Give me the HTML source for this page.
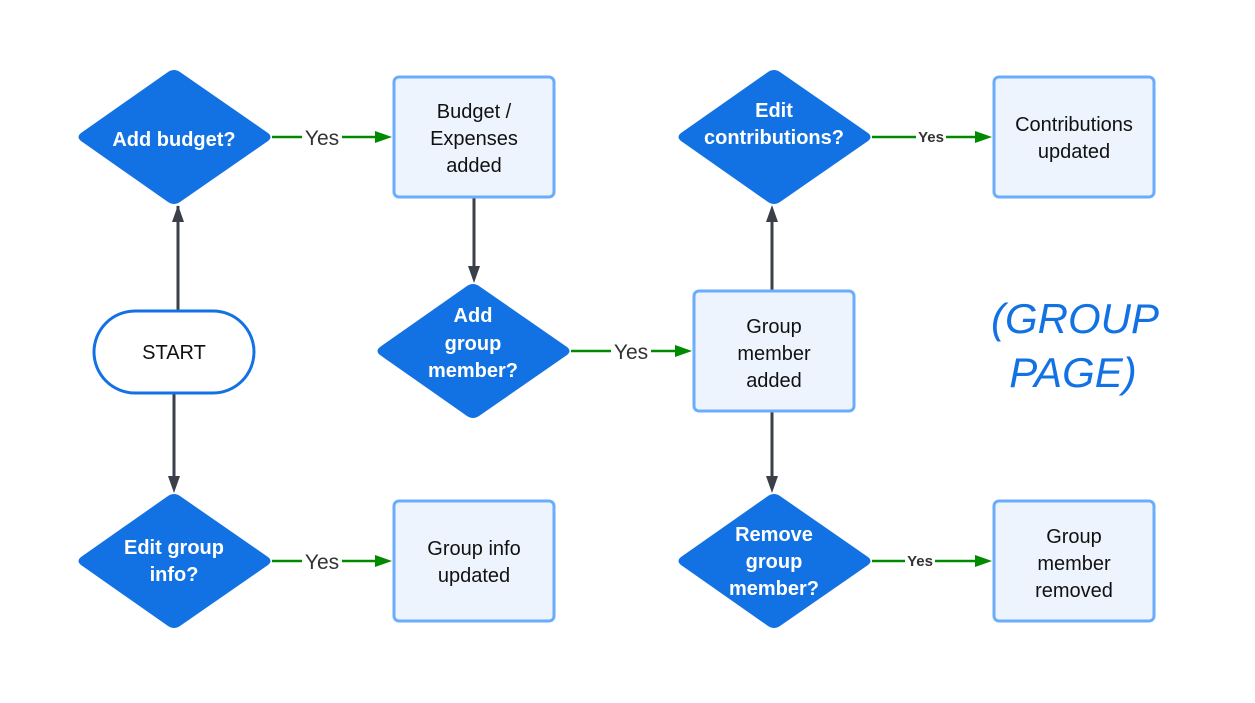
<!DOCTYPE html>
<html><head><meta charset="utf-8"><style>
html,body{margin:0;padding:0;background:#fff;}
svg{display:block;font-family:"Liberation Sans",sans-serif;}
</style></head><body>
<svg width="1255" height="703" viewBox="0 0 1255 703">
<g stroke="#3a3f4a" stroke-width="3" fill="none">
<line x1="178" y1="310" x2="178" y2="206"/><path d="M172,222 L178,205 L184,222Z" fill="#3a3f4a" stroke="none"/>
<line x1="174" y1="393" x2="174" y2="478"/><path d="M168,476 L174,493 L180,476Z" fill="#3a3f4a" stroke="none"/>
<line x1="474" y1="197" x2="474" y2="268"/><path d="M468,266 L474,283 L480,266Z" fill="#3a3f4a" stroke="none"/>
<line x1="772" y1="290" x2="772" y2="220"/><path d="M766,222 L772,205 L778,222Z" fill="#3a3f4a" stroke="none"/>
<line x1="772" y1="411" x2="772" y2="478"/><path d="M766,476 L772,493 L778,476Z" fill="#3a3f4a" stroke="none"/>
</g>
<g stroke="#008a00" stroke-width="2.5">
<line x1="272" y1="137" x2="378" y2="137"/><line x1="571" y1="351" x2="678" y2="351"/><line x1="272" y1="561" x2="378" y2="561"/>
<line x1="872" y1="137" x2="978" y2="137"/><line x1="872" y1="561" x2="978" y2="561"/>
</g>
<g fill="#008a00">
<path d="M375,131 L392,137 L375,143Z"/><path d="M675,345 L692,351 L675,357Z"/><path d="M375,555 L392,561 L375,567Z"/>
<path d="M975,131 L992,137 L975,143Z"/><path d="M975,555 L992,561 L975,567Z"/>
</g>
<g font-size="21" fill="#333" text-anchor="middle">
<rect x="302" y="124" width="40" height="26" fill="#fff"/><text x="322" y="145">Yes</text>
<rect x="611" y="338" width="40" height="26" fill="#fff"/><text x="631" y="359">Yes</text>
<rect x="302" y="548" width="40" height="26" fill="#fff"/><text x="322" y="569">Yes</text>
</g>
<g font-size="15" font-weight="bold" fill="#333" text-anchor="middle">
<rect x="916" y="128" width="30" height="18" fill="#fff"/><text x="931" y="142">Yes</text>
<rect x="905" y="552" width="30" height="18" fill="#fff"/><text x="920" y="566">Yes</text>
</g>
<g fill="#1272e3">
<path d="M168,72 Q174,68 180,72 L268,133 Q273,137 268,141 L180,202 Q174,206 168,202 L81,141 Q76,137 81,133Z"/>
<path d="M168,496 Q174,492 180,496 L268,557 Q273,561 268,565 L180,626 Q174,630 168,626 L81,565 Q76,561 81,557Z"/>
<path d="M467,286 Q473,282 479,286 L567,347 Q572,351 567,355 L479,416 Q473,420 467,416 L380,355 Q375,351 380,347Z"/>
<path d="M768,72 Q774,68 780,72 L868,133 Q873,137 868,141 L780,202 Q774,206 768,202 L681,141 Q676,137 681,133Z"/>
<path d="M768,496 Q774,492 780,496 L868,557 Q873,561 868,565 L780,626 Q774,630 768,626 L681,565 Q676,561 681,557Z"/>
</g>
<g font-size="20" font-weight="bold" fill="#fff" text-anchor="middle">
<text x="174" y="146">Add budget?</text>
<text x="174" y="554">Edit group</text><text x="174" y="581">info?</text>
<text x="473" y="322">Add</text><text x="473" y="350">group</text><text x="473" y="377">member?</text>
<text x="774" y="117">Edit</text><text x="774" y="144">contributions?</text>
<text x="774" y="541">Remove</text><text x="774" y="568">group</text><text x="774" y="595">member?</text>
</g>
<g fill="#edf4fe" stroke="#6aaefb" stroke-width="3">
<rect x="394" y="77" width="160" height="120" rx="5"/>
<rect x="994" y="77" width="160" height="120" rx="5"/>
<rect x="694" y="291" width="160" height="120" rx="5"/>
<rect x="394" y="501" width="160" height="120" rx="5"/>
<rect x="994" y="501" width="160" height="120" rx="5"/>
</g>
<rect x="94" y="311" width="160" height="82" rx="41" fill="#fff" stroke="#1272e3" stroke-width="3"/>
<g font-size="20" fill="#111" text-anchor="middle">
<text x="174" y="359">START</text>
<text x="474" y="118">Budget /</text><text x="474" y="145">Expenses</text><text x="474" y="172">added</text>
<text x="1074" y="131">Contributions</text><text x="1074" y="158">updated</text>
<text x="774" y="333">Group</text><text x="774" y="360">member</text><text x="774" y="387">added</text>
<text x="474" y="555">Group info</text><text x="474" y="582">updated</text>
<text x="1074" y="543">Group</text><text x="1074" y="570">member</text><text x="1074" y="597">removed</text>
</g>
<g font-size="42" font-style="italic" fill="#1272e3" text-anchor="middle">
<text x="1075" y="333">(GROUP</text><text x="1073" y="387">PAGE)</text>
</g>
</svg>
</body></html>
